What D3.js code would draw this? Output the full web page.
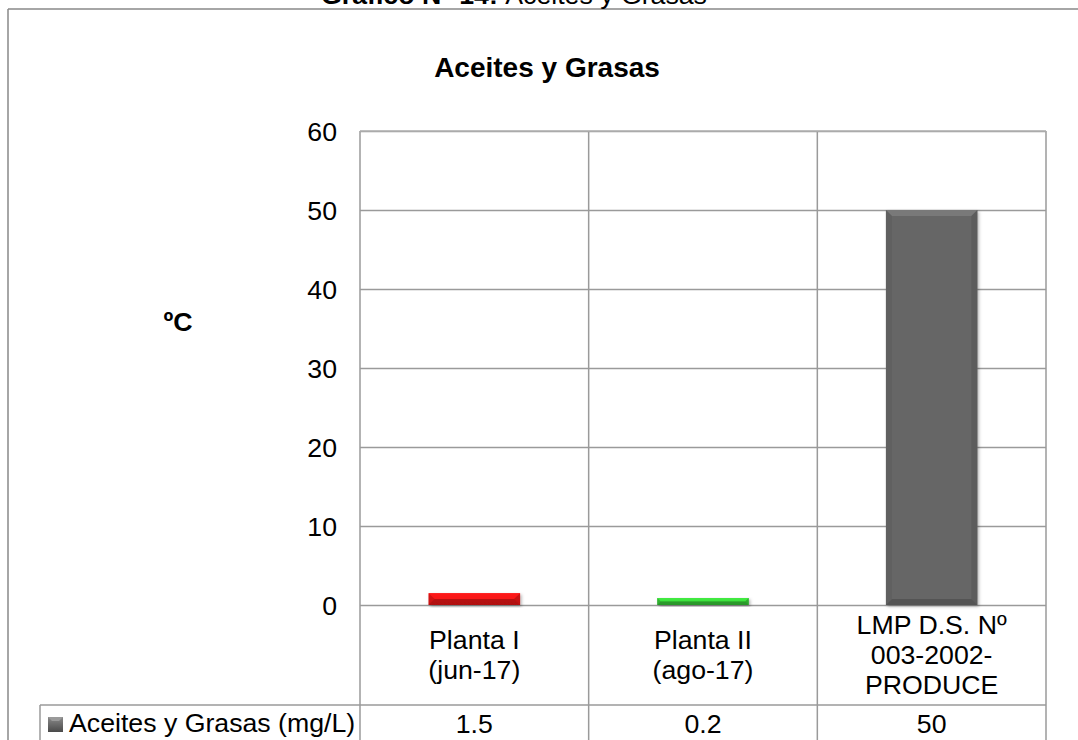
<!DOCTYPE html>
<html>
<head>
<meta charset="utf-8">
<script src="https://cdn.jsdelivr.net/npm/d3@7"></script>
<style>
  html, body { margin: 0; padding: 0; background: #fff; }
  svg { display: block; font-family: "Liberation Sans", Arial, sans-serif; }
</style>
</head>
<body>
<svg id="chart" width="1078" height="740"></svg>
<script>
// ---- data ----
const categories = ["Planta I (jun-17)", "Planta II (ago-17)", "LMP D.S. Nº 003-2002-PRODUCE"];
const categoryLines = [["Planta I", "(jun-17)"], ["Planta II", "(ago-17)"], ["LMP D.S. Nº", "003-2002-", "PRODUCE"]];
const values = [1.5, 0.2, 50];
const valueLabels = ["1.5", "0.2", "50"];
const barColors = ["#e01414", "#35c035", "#666666"];
const yTicks = [0, 10, 20, 30, 40, 50, 60];
const seriesName = "Aceites y Grasas (mg/L)";
const chartTitle = "Aceites y Grasas";
const yTitle = "ºC";

// ---- layout ----
const svg = d3.select("#chart");
const plot = { left: 360, right: 1046, top: 131, bottom: 605 };
const tableRowBottom = 705;

const x = d3.scaleBand().domain(categories).range([plot.left, plot.right]).paddingInner(0).paddingOuter(0);
const y = d3.scaleLinear().domain([0, 60]).range([plot.bottom, plot.top]);

// outer document frame (partially visible)
svg.append("line").attr("x1", 8).attr("x2", 1078).attr("y1", 9).attr("y2", 9)
  .attr("stroke", "#888").attr("stroke-width", 1.5);
svg.append("line").attr("x1", 8).attr("x2", 8).attr("y1", 9).attr("y2", 740)
  .attr("stroke", "#888").attr("stroke-width", 1.5);

// clipped document heading
const head = svg.append("text").attr("x", 514).attr("y", 3.5).attr("text-anchor", "middle")
  .attr("font-size", 26.7).attr("fill", "#000");
head.append("tspan").attr("font-weight", "bold").text("Gráfico N° 14: ");
head.append("tspan").text("Aceites y Grasas");

// chart title
svg.append("text").attr("x", 547).attr("y", 77).attr("text-anchor", "middle")
  .attr("font-size", 28).attr("font-weight", "bold").text(chartTitle);

// y axis title
svg.append("text").attr("x", 178).attr("y", 331).attr("text-anchor", "middle")
  .attr("font-size", 26.7).attr("font-weight", "bold").text(yTitle);

const gridColor = "#9a9a9a";

// horizontal gridlines
svg.append("g").attr("transform", `translate(${plot.left},0)`)
  .call(d3.axisLeft(y).tickValues(yTicks).tickSize(-(plot.right - plot.left)).tickFormat(""))
  .call(g => g.select(".domain").remove())
  .call(g => g.selectAll("line").attr("stroke", gridColor).attr("stroke-width", 1.5));

// tick labels
svg.append("g").attr("transform", `translate(${plot.left - 23},0)`)
  .call(d3.axisLeft(y).tickValues(yTicks).tickSize(0).tickPadding(0))
  .call(g => g.select(".domain").remove())
  .call(g => g.selectAll("text").attr("font-size", 26.7).attr("font-family", "'Liberation Sans', Arial, sans-serif")
    .attr("fill", "#000").attr("dy", "0.36em"));

// vertical lines (plot + table)
const bounds = categories.map(c => x(c)).concat([plot.right]);
svg.append("g").selectAll("line").data(bounds).join("line")
  .attr("x1", d => d).attr("x2", d => d).attr("y1", plot.top).attr("y2", 740)
  .attr("stroke", gridColor).attr("stroke-width", 1.5);

// table horizontal line & legend cell
svg.append("line").attr("x1", 40).attr("x2", plot.right).attr("y1", tableRowBottom).attr("y2", tableRowBottom)
  .attr("stroke", gridColor).attr("stroke-width", 1.5);
svg.append("line").attr("x1", 40).attr("x2", 40).attr("y1", tableRowBottom).attr("y2", 740)
  .attr("stroke", gridColor).attr("stroke-width", 1.5);
// plot top line (light)
svg.append("line").attr("x1", plot.left).attr("x2", plot.right).attr("y1", plot.top).attr("y2", plot.top)
  .attr("stroke", "#b0b0b0").attr("stroke-width", 1.5);

// gradients
const defs = svg.append("defs");
barColors.forEach((c, i) => {
  const col = d3.color(c);
  const g = defs.append("linearGradient").attr("id", "bg" + i).attr("x1", 0).attr("x2", 0).attr("y1", 0).attr("y2", 1);
  g.append("stop").attr("offset", "0%").attr("stop-color", col.brighter(0.5));
  g.append("stop").attr("offset", "30%").attr("stop-color", c);
  g.append("stop").attr("offset", "100%").attr("stop-color", col.darker(0.4));
});
const sh = defs.append("filter").attr("id", "shadow").attr("x", "-10%").attr("y", "-10%").attr("width", "130%").attr("height", "130%");
sh.append("feDropShadow").attr("dx", 1.5).attr("dy", 1.5).attr("stdDeviation", 1.5).attr("flood-opacity", 0.3);

// bars
const bw = x.bandwidth() * 0.4;
const minBevel = 7; // bevel effect gives very small bars a visible minimum thickness
const bars = svg.append("g").selectAll("g").data(categories).join("g");
bars.each(function(c, i) {
  const g = d3.select(this);
  const x0 = x(c) + (x.bandwidth() - bw) / 2;
  const top = Math.min(y(values[i]), y(0) - minBevel);
  const h = y(0) - top;
  const col = d3.color(barColors[i]);
  g.append("rect").attr("x", x0).attr("y", top).attr("width", bw).attr("height", h)
    .attr("fill", i === 2 ? barColors[i] : `url(#bg${i})`).attr("filter", "url(#shadow)");
  const b = Math.min(6, h / 2);
  // top bevel
  g.append("path").attr("d", `M${x0},${top} L${x0 + bw},${top} L${x0 + bw - b},${top + b} L${x0 + b},${top + b} Z`)
    .attr("fill", col.brighter(0.6)).attr("opacity", 0.8);
  // side bevels
  g.append("path").attr("d", `M${x0},${top} L${x0 + b},${top + b} L${x0 + b},${top + h - b} L${x0},${top + h} Z`)
    .attr("fill", col.darker(0.3)).attr("opacity", 0.6);
  g.append("path").attr("d", `M${x0 + bw},${top} L${x0 + bw - b},${top + b} L${x0 + bw - b},${top + h - b} L${x0 + bw},${top + h} Z`)
    .attr("fill", col.darker(0.5)).attr("opacity", 0.6);
  // bottom bevel
  g.append("path").attr("d", `M${x0},${top + h} L${x0 + b},${top + h - b} L${x0 + bw - b},${top + h - b} L${x0 + bw},${top + h} Z`)
    .attr("fill", col.darker(0.8)).attr("opacity", 0.7);
});

// category labels
const lineH = 30;
svg.append("g").selectAll("text").data(categories).join("text")
  .attr("text-anchor", "middle").attr("font-size", 26.7).attr("fill", "#000")
  .each(function(c, i) {
    const lines = categoryLines[i];
    const cx = x(c) + x.bandwidth() / 2;
    const mid = (plot.bottom + tableRowBottom) / 2 + 9;
    const first = mid - (lines.length - 1) * lineH / 2;
    d3.select(this).selectAll("tspan").data(lines).join("tspan")
      .attr("x", cx).attr("y", (d, k) => first + k * lineH).text(d => d);
  });

// value row
svg.append("g").selectAll("text").data(categories).join("text")
  .attr("x", c => x(c) + x.bandwidth() / 2).attr("y", 733).attr("text-anchor", "middle")
  .attr("font-size", 26.7).attr("fill", "#000").text((c, i) => valueLabels[i]);

// legend key
const lgKey = defs.append("linearGradient").attr("id", "lgkey").attr("x1", 0).attr("x2", 0).attr("y1", 0).attr("y2", 1);
lgKey.append("stop").attr("offset", "0%").attr("stop-color", "#8a8a8a");
lgKey.append("stop").attr("offset", "100%").attr("stop-color", "#4a4a4a");
svg.append("rect").attr("x", 48).attr("y", 717).attr("width", 15).attr("height", 15).attr("fill", "url(#lgkey)");
svg.append("path").attr("d", "M48,717 L63,717 L59,721 L52,721 Z").attr("fill", "#9a9a9a");
svg.append("text").attr("x", 69).attr("y", 732).attr("font-size", 26.7).attr("fill", "#000").text(seriesName);
</script>
</body>
</html>
